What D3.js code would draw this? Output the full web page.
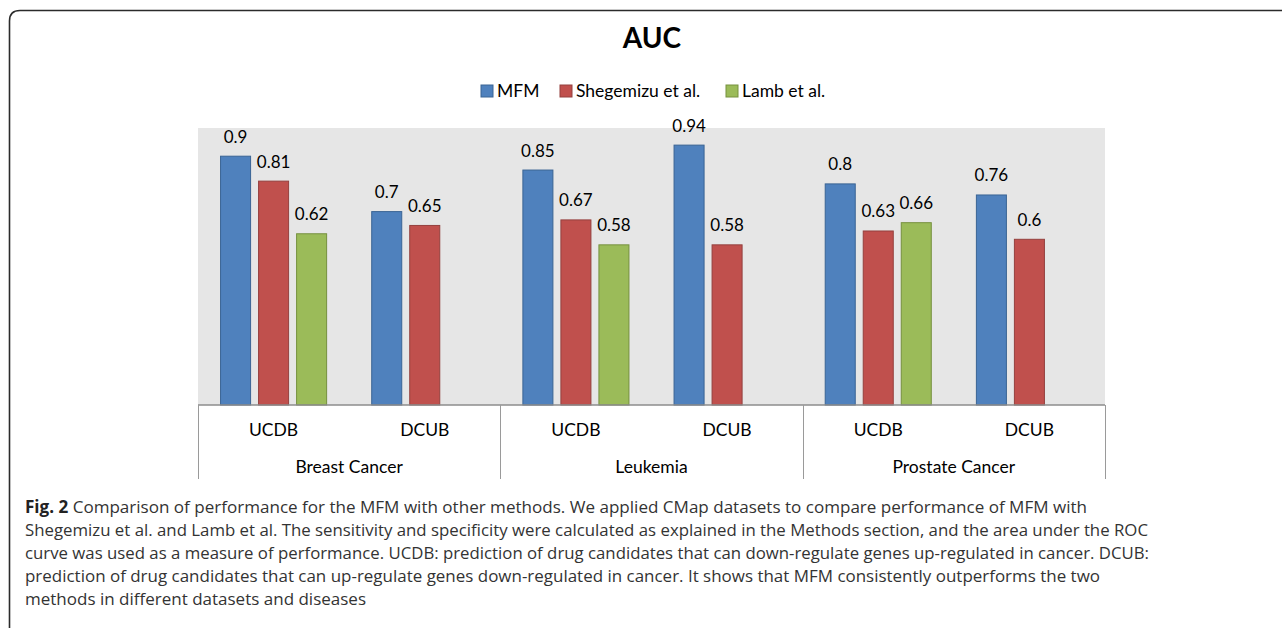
<!DOCTYPE html>
<html>
<head>
<meta charset="utf-8">
<script src="https://cdn.jsdelivr.net/npm/d3@7"></script>
<style>
  body { margin: 0; background: #fff; }
  svg { display: block; }
</style>
</head>
<body>
<svg width="1282" height="628"></svg>
<script>
const diseases = ['Breast Cancer', 'Leukemia', 'Prostate Cancer'];
const directions = ['UCDB', 'DCUB'];
const seriesNames = ['MFM', 'Shegemizu et al.', 'Lamb et al.'];
const seriesColors = ['#4f81bd', '#c0504d', '#9bbb59'];
const seriesStrokes = ['#3a6494', '#94403e', '#76913f'];

// one value per disease/direction pair, null = no bar
const mfm = [0.9, 0.7, 0.85, 0.94, 0.8, 0.76];
const shegemizu = [0.81, 0.65, 0.67, 0.58, 0.63, 0.6];
const lamb = [0.62, null, 0.58, null, 0.66, null];

const captionLines = [
  'Comparison of performance for the MFM with other methods. We applied CMap datasets to compare performance of MFM with',
  'Shegemizu et al. and Lamb et al. The sensitivity and specificity were calculated as explained in the Methods section, and the area under the ROC',
  'curve was used as a measure of performance. UCDB: prediction of drug candidates that can down-regulate genes up-regulated in cancer. DCUB:',
  'prediction of drug candidates that can up-regulate genes down-regulated in cancer. It shows that MFM consistently outperforms the two',
  'methods in different datasets and diseases'
];
const captionWidths = [1062, 1123, 1124, 1075, 341];

const svg = d3.select('svg');

// outer frame, only top and left edges visible
svg.append('path')
  .attr('d', 'M9.5,640 L9.5,21 Q9.5,10.5 20,10.5 L1300,10.5')
  .attr('fill', 'none')
  .attr('stroke', '#2b2b2b')
  .attr('stroke-width', 1.6);

const plot = { left: 198, right: 1105, top: 128, bottom: 405 };

const cats = [];
diseases.forEach(d => directions.forEach(k => cats.push(d + '|' + k)));

const x0 = d3.scaleBand().domain(cats).range([plot.left, plot.right]);
const x1 = d3.scaleBand().domain(seriesNames).range([0, x0.bandwidth()])
  .paddingInner(0.184).paddingOuter(0.58);
const y = d3.scaleLinear().domain([0, 1]).range([plot.bottom, plot.top]);
const xg = d3.scaleBand().domain(diseases).range([plot.left, plot.right]);

// plot background
svg.append('rect')
  .attr('x', plot.left).attr('y', plot.top)
  .attr('width', plot.right - plot.left).attr('height', plot.bottom - plot.top)
  .attr('fill', '#e6e6e6');

// title
svg.append('text')
  .attr('x', 652).attr('y', 48)
  .attr('text-anchor', 'middle')
  .style('font', 'bold 28px Lato')
  .attr('fill', '#000')
  .text('AUC');

// legend
const legendX = [481, 560, 726];
const legend = svg.append('g').selectAll('g')
  .data(seriesNames)
  .join('g')
  .attr('transform', (d, i) => `translate(${legendX[i]},85)`);
legend.append('rect')
  .attr('width', 12).attr('height', 12)
  .attr('fill', (d, i) => seriesColors[i])
  .attr('stroke', (d, i) => seriesStrokes[i]);
legend.append('text')
  .attr('x', 16).attr('y', 11.5)
  .style('font', '17.5px Lato')
  .text(d => d);

// bars
const seriesData = [mfm, shegemizu, lamb];
const barRows = [];
seriesData.forEach((vals, s) => {
  vals.forEach((v, c) => {
    if (v !== null) barRows.push({ s, cat: cats[c], v });
  });
});

const bars = svg.append('g');
bars.selectAll('rect')
  .data(barRows)
  .join('rect')
  .attr('x', d => x0(d.cat) + x1(seriesNames[d.s]) + 0.5)
  .attr('y', d => y(d.v) + 0.5)
  .attr('width', x1.bandwidth() - 1)
  .attr('height', d => plot.bottom - y(d.v) - 0.5)
  .attr('fill', d => seriesColors[d.s])
  .attr('stroke', d => seriesStrokes[d.s])
  .attr('stroke-width', 1);

bars.selectAll('text')
  .data(barRows)
  .join('text')
  .attr('x', d => x0(d.cat) + x1(seriesNames[d.s]) + x1.bandwidth() / 2)
  .attr('y', d => y(d.v) - 13)
  .attr('text-anchor', 'middle')
  .style('font', '17px Lato')
  .attr('fill', '#000')
  .text(d => d.v);

// category axis drawn as a table below the plot
const axisG = svg.append('g');
axisG.append('line')
  .attr('x1', plot.left).attr('x2', plot.right)
  .attr('y1', plot.bottom).attr('y2', plot.bottom)
  .attr('stroke', '#8c8c8c').attr('stroke-width', 1.5);

const seps = diseases.map(d => xg(d)).concat([plot.right]);
axisG.selectAll('line.sep')
  .data(seps)
  .join('line')
  .attr('class', 'sep')
  .attr('x1', d => Math.round(d) + 0.5).attr('x2', d => Math.round(d) + 0.5)
  .attr('y1', plot.bottom).attr('y2', 479)
  .attr('stroke', '#9a9a9a').attr('stroke-width', 1);

axisG.selectAll('text.sub')
  .data(cats)
  .join('text')
  .attr('class', 'sub')
  .attr('x', d => x0(d) + x0.bandwidth() / 2)
  .attr('y', 436)
  .attr('text-anchor', 'middle')
  .style('font', '17.5px Lato')
  .text(d => d.split('|')[1]);

axisG.selectAll('text.grp')
  .data(diseases)
  .join('text')
  .attr('class', 'grp')
  .attr('x', d => xg(d) + xg.bandwidth() / 2)
  .attr('y', 473)
  .attr('text-anchor', 'middle')
  .style('font', '17.5px Lato')
  .text(d => d);

// caption
const cap = svg.append('g')
  .style('font', '17px "Open Sans"')
  .attr('fill', '#333');
captionLines.forEach((line, i) => {
  const t = cap.append('text')
    .attr('x', 25)
    .attr('y', 513 + i * 23)
    .attr('textLength', captionWidths[i])
    .attr('lengthAdjust', 'spacingAndGlyphs');
  if (i === 0) {
    t.append('tspan').style('font-weight', 'bold').attr('fill', '#222').text('Fig. 2');
    t.append('tspan').text(' ' + line);
  } else {
    t.text(line);
  }
});
</script>
</body>
</html>
